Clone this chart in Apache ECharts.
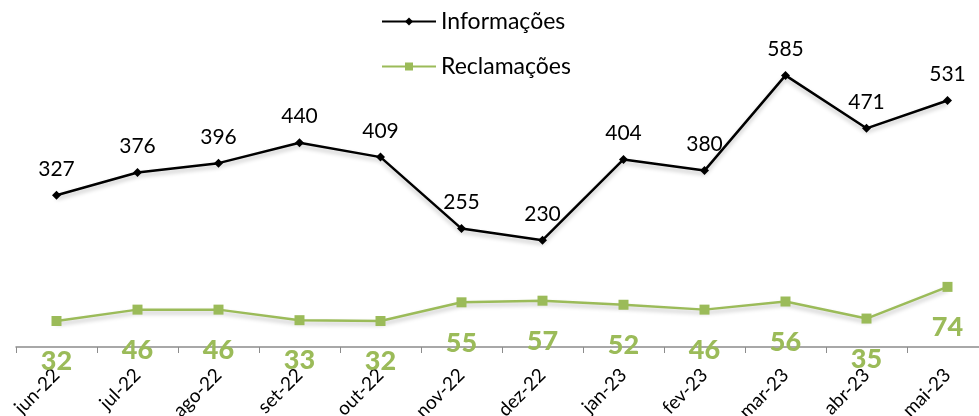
<!DOCTYPE html>
<html><head><meta charset="utf-8">
<script src="https://cdn.jsdelivr.net/npm/echarts@6/dist/echarts.min.js"></script>
<style>html,body{margin:0;padding:0;background:#fff}#c{width:979px;height:416px}</style>
</head><body><div id="c"></div>
<script>
const categories = ['jun-22','jul-22','ago-22','set-22','out-22','nov-22','dez-22','jan-23','fev-23','mar-23','abr-23','mai-23'];
const informacoes = [327,376,396,440,409,255,230,404,380,585,471,531];
const reclamacoes = [32,46,46,33,32,55,57,52,46,56,35,74];
const seriesNames = ['Informações','Reclamações'];

const chart = echarts.init(document.getElementById('c'));
const font = 'Lato, "Open Sans", sans-serif';
chart.setOption({
  animation:false,
  textStyle:{fontFamily:font},
  legend:{
    orient:'vertical', left:376, top:5, itemGap:22, itemWidth:54, itemHeight:10,
    textStyle:{fontSize:23, color:'#000', fontFamily:font},
    data:[{name:seriesNames[0]},{name:seriesNames[1]}]
  },
  grid:{left:16, right:-9, top:22, bottom:69, containLabel:false, outerBoundsMode:'none'},
  xAxis:{
    type:'category', data:categories, boundaryGap:true,
    axisLine:{lineStyle:{color:'#8c8c8c', width:1.5}},
    axisTick:{show:true, length:6, lineStyle:{color:'#8c8c8c'}},
    axisLabel:{rotate:45, fontSize:19, color:'#000', margin:25, fontFamily:font}
  },
  yAxis:[
    {type:'value', min:0, max:700, show:false, splitLine:{show:false}},
    {type:'value', min:0, max:400, show:false, splitLine:{show:false}}
  ],
  series:[
    {
      name:seriesNames[0], type:'line', data:informacoes, yAxisIndex:0,
      symbol:'diamond', symbolSize:9,
      lineStyle:{color:'#000', width:2.5, shadowColor:'rgba(0,0,0,0.25)', shadowBlur:4, shadowOffsetY:3},
      itemStyle:{color:'#000'},
      label:{show:true, position:'top', distance:11, fontSize:21, color:'#000', fontFamily:font}
    },
    {
      name:seriesNames[1], type:'line', data:reclamacoes, yAxisIndex:1, z:5,
      symbol:'rect', symbolSize:10,
      lineStyle:{color:'#9bbb59', width:2.5, shadowColor:'rgba(0,0,0,0.25)', shadowBlur:4, shadowOffsetY:3},
      itemStyle:{color:'#9bbb59'},
      label:{show:true, position:'bottom', distance:22, fontSize:27, fontWeight:900, color:'#9bbb59', fontFamily:'Lato'}
    }
  ]
});
</script></body></html>
